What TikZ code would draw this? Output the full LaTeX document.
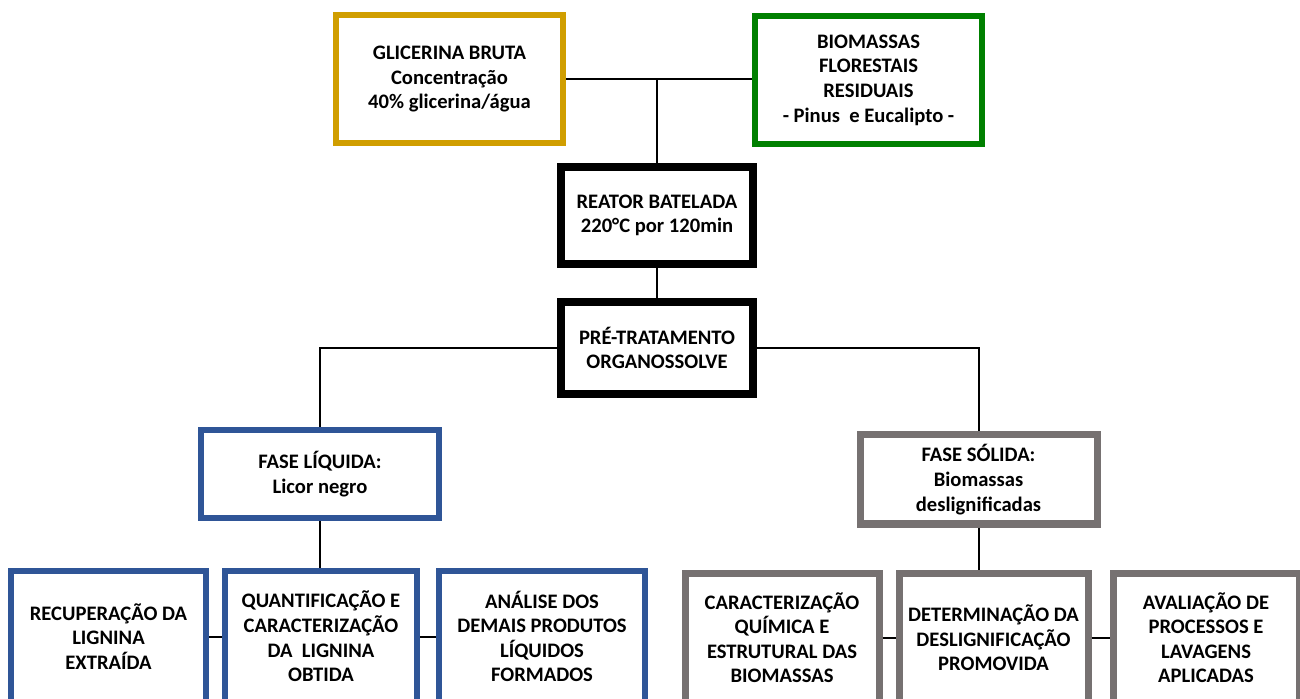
\documentclass[tikz,border=0pt]{standalone}
\usepackage{fontspec}
\setmainfont{Carlito}
\usetikzlibrary{positioning}
\definecolor{glicgold}{RGB}{208,158,0}
\definecolor{florgreen}{RGB}{0,128,0}
\definecolor{liqblue}{RGB}{47,85,151}
\definecolor{solgray}{RGB}{118,113,113}

\begin{document}
\begin{tikzpicture}[x=0.5pt,y=-0.5pt,
  box/.style={draw,fill=white,align=center,inner sep=2pt,font=\bfseries\fontsize{10.3}{12.3}\selectfont},
  topbox/.style={box,line width=3pt,minimum width=113.5pt,minimum height=64pt},
  midbox/.style={box,line width=4pt,minimum width=96pt},
  liqbox/.style={box,draw=liqblue,line width=3pt,minimum height=65.5pt},
  solbox/.style={box,draw=solgray,line width=3.5pt,minimum height=64.25pt},
  link/.style={line width=1pt}]
\useasboundingbox (0,0) rectangle (1300,699);
% entradas
\node[topbox,draw=glicgold] (glic) at (449.5,79) {GLICERINA BRUTA\\Concentração\\40\% glicerina/água};
\node[topbox,draw=florgreen] (bio) at (868.5,80) {BIOMASSAS\\FLORESTAIS\\RESIDUAIS\\- Pinus~ e Eucalipto -};
% reator e pre-tratamento
\node[midbox,minimum height=48.5pt] (reator) at (657,215.5) {REATOR BATELADA\\220°C por 120min};
\node[midbox,minimum height=46pt] (pre) at (657,348) {PRÉ-TRATAMENTO\\ORGANOSSOLVE};
% fases
\node[box,draw=liqblue,line width=3pt,minimum width=119pt,minimum height=44pt] (liq) at (320,474) {FASE LÍQUIDA:\\Licor negro};
\node[box,draw=solgray,line width=3.5pt,minimum width=118.5pt,minimum height=44.5pt] (sol) at (978.5,479.5) {FASE SÓLIDA:\\Biomassas\\deslignificadas};
% fase liquida
\node[liqbox,minimum width=97.5pt] (rec) at (108.5,636.5) {RECUPERAÇÃO DA\\LIGNINA\\EXTRAÍDA};
\node[liqbox,minimum width=96pt,right=6.5pt of rec] (quant) {QUANTIFICAÇÃO E\\CARACTERIZAÇÃO\\DA~ LIGNINA\\OBTIDA};
\node[liqbox,minimum width=103pt,right=8pt of quant] (ana) {ANÁLISE DOS\\DEMAIS PRODUTOS\\LÍQUIDOS\\FORMADOS};
% fase solida
\node[solbox,minimum width=97pt] (car) at (782,637.75) {CARACTERIZAÇÃO\\QUÍMICA E\\ESTRUTURAL DAS\\BIOMASSAS};
\node[solbox,minimum width=94.5pt,right=6.5pt of car] (det) {DETERMINAÇÃO DA\\DESLIGNIFICAÇÃO\\PROMOVIDA};
\node[solbox,minimum width=93pt,right=9pt of det] (ava) {AVALIAÇÃO DE\\PROCESSOS E\\LAVAGENS\\APLICADAS};
% ligacoes
\draw[link] (glic.east) -- (glic.east -| bio.west);
\coordinate (split) at (reator.north |- glic.east);
\draw[link] (split) -- (reator.north);
\draw[link] (reator.south) -- (pre.north);
\draw[link] (pre.west) -| (liq.north);
\draw[link] (pre.east) -| (sol.north);
\draw[link] (liq.south) -- (liq.south |- quant.north);
\draw[link] (sol.south) -- (sol.south |- det.north);
\draw[link] (rec.east) -- (quant.west);
\draw[link] (quant.east) -- (ana.west);
\draw[link] (car.east) -- (det.west);
\draw[link] (det.east) -- (ava.west);
\end{tikzpicture}
\end{document}
